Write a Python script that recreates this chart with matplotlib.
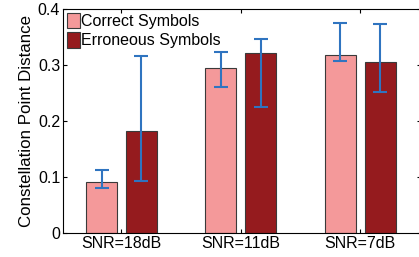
import numpy as np
import matplotlib
matplotlib.use('Agg')
import matplotlib.pyplot as plt

plt.rcParams['font.family'] = ['Liberation Sans', 'DejaVu Sans']

categories = ['SNR=18dB', 'SNR=11dB', 'SNR=7dB']
correct = [0.091, 0.295, 0.318]
correct_low = [0.080, 0.261, 0.307]
correct_high = [0.113, 0.323, 0.375]
erroneous = [0.182, 0.321, 0.305]
erroneous_low = [0.093, 0.225, 0.252]
erroneous_high = [0.316, 0.346, 0.373]

x = np.arange(len(categories))
w = 0.26
off = 0.167

fig = plt.figure(figsize=(4.19, 2.57), dpi=100)
ax = fig.add_axes([63 / 419, 1 - 233 / 257, (421 - 63) / 419, (233 - 9) / 257])

ax.bar(x - off, correct, w, color='#F4999A', edgecolor='#3a3a3a', linewidth=0.8,
       label='Correct Symbols')
ax.bar(x + off, erroneous, w, color='#951B1E', edgecolor='#3a3a3a', linewidth=0.8,
       label='Erroneous Symbols')

err_c = [np.array(correct) - np.array(correct_low), np.array(correct_high) - np.array(correct)]
err_e = [np.array(erroneous) - np.array(erroneous_low), np.array(erroneous_high) - np.array(erroneous)]
ax.errorbar(x - off, correct, yerr=err_c, fmt='none', ecolor='#2F74C0',
            elinewidth=1.5, capsize=5, capthick=1.5)
ax.errorbar(x + off, erroneous, yerr=err_e, fmt='none', ecolor='#2F74C0',
            elinewidth=1.5, capsize=5, capthick=1.5)

ax.set_xlim(-0.49, 2.51)
ax.set_ylim(0, 0.4)
ax.set_yticks([0, 0.1, 0.2, 0.3, 0.4])
ax.set_yticklabels(['0', '0.1', '0.2', '0.3', '0.4'])
ax.set_xticks(x)
ax.set_xticklabels(categories)
ax.tick_params(direction='in', length=3, labelsize=11.5, top=True, right=True, pad=2)
ax.set_ylabel('Constellation Point Distance', fontsize=12.2, labelpad=3)

ax.legend(loc='upper left', frameon=False, fontsize=11.5, handlelength=0.8,
          handleheight=1.1, borderaxespad=0.05, borderpad=0.2, handletextpad=0.1,
          labelspacing=0.2)

fig.savefig('out.png', dpi=100)
